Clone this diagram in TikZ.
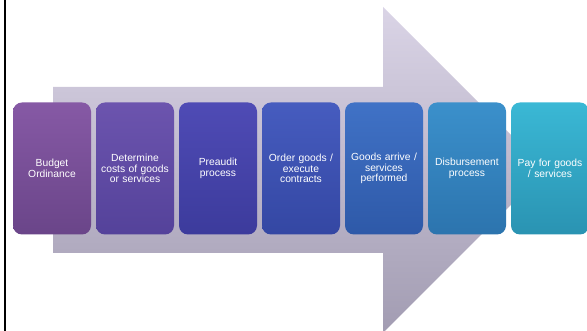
\documentclass[tikz,border=0pt]{standalone}
\usepackage{fontspec}
\setmainfont{Liberation Sans}
\usetikzlibrary{positioning}

\definecolor{arrowtop}{HTML}{DAD4E6}
\definecolor{arrowbot}{HTML}{A29CB2}
\definecolor{budgettop}{HTML}{8659A5}
\definecolor{budgetbot}{HTML}{6A4589}
\definecolor{coststop}{HTML}{6C54AE}
\definecolor{costsbot}{HTML}{54429A}
\definecolor{preaudtop}{HTML}{4F4BB5}
\definecolor{preaudbot}{HTML}{3C3B9C}
\definecolor{ordertop}{HTML}{465CBF}
\definecolor{orderbot}{HTML}{3447A3}
\definecolor{arrivetop}{HTML}{4072C6}
\definecolor{arrivebot}{HTML}{2E59A8}
\definecolor{disbtop}{HTML}{3B90CB}
\definecolor{disbbot}{HTML}{2C74AE}
\definecolor{paytop}{HTML}{3AB8D5}
\definecolor{paybot}{HTML}{2A93B2}

\begin{document}
\begin{tikzpicture}[x=1pt, y=1pt,
		stage/.style={rounded corners=9pt, minimum width=78pt, minimum height=132pt,
			inner sep=2pt, text width=74pt, align=center, text=white,
			font=\fontsize{10.3}{10.5}\selectfont},
	]
	\useasboundingbox (0,0) rectangle (587,331);
	\draw[line width=1.6pt] (5,0) -- (5,331);

	% big arrow behind the stages
	\shade[top color=arrowtop, bottom color=arrowbot] (53,244) -- (383,244) -- (383,324)
		-- (546,161) -- (383,-2) -- (383,78) -- (53,78) -- cycle;

	\node[stage, top color=budgettop, bottom color=budgetbot] (budget) at (52,162.5) {Budget\\Ordinance};
	\node[stage, top color=coststop, bottom color=costsbot, right=4.6pt of budget] (costs) {Determine\\costs of goods\\or services};
	\node[stage, top color=preaudtop, bottom color=preaudbot, right=4.6pt of costs] (preaudit) {Preaudit\\process};
	\node[stage, top color=ordertop, bottom color=orderbot, right=4.6pt of preaudit] (order) {Order goods /\\execute\\contracts};
	\node[stage, top color=arrivetop, bottom color=arrivebot, right=4.6pt of order] (arrive) {Goods arrive /\\services\\performed};
	\node[stage, top color=disbtop, bottom color=disbbot, right=4.6pt of arrive] (disburse) {Disbursement\\process};
	\node[stage, top color=paytop, bottom color=paybot, right=4.6pt of disburse] (pay) {Pay for goods\\/ services};
\end{tikzpicture}
\end{document}
